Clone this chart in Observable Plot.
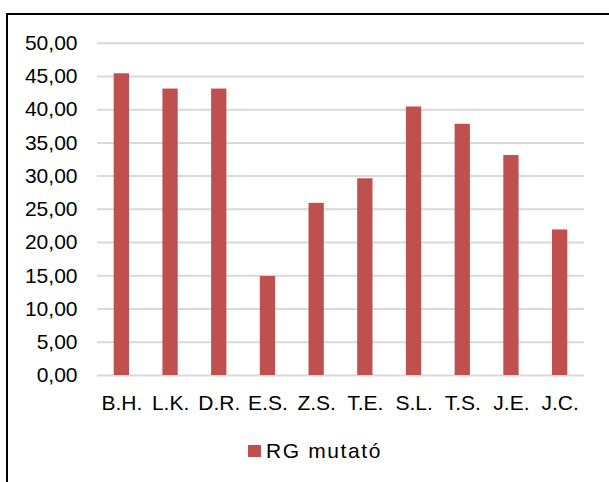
<!DOCTYPE html>
<html>
<head>
<meta charset="utf-8">
<script src="https://cdn.jsdelivr.net/npm/d3@7"></script>
<script src="https://cdn.jsdelivr.net/npm/@observablehq/plot@0.6"></script>
<style>
  html, body { margin: 0; padding: 0; background: #fff; overflow: hidden; width: 609px; height: 482px; }
  #wrap { position: relative; width: 609px; height: 482px; overflow: hidden; }
  #frame { position: absolute; left: 6px; top: 13px; width: 800px; height: 700px; border: 2px solid #000; box-sizing: border-box; }
  #chart { position: absolute; left: 0; top: 0; }
  #legend { position: absolute; left: 248px; top: 439px; display: flex; align-items: center; font-family: "Liberation Sans", Arial, sans-serif; font-size: 21px; letter-spacing: 1.6px; color: #000; }
  #legend .sw { width: 12.5px; height: 12.5px; background: #c0504d; margin-right: 5.5px; }
</style>
</head>
<body>
<div id="wrap">
  <div id="frame"></div>
  <div id="chart"></div>
  <div id="legend"><span class="sw"></span><span class="lbl">RG mutató</span></div>
</div>
<script>
const names = ["B.H.", "L.K.", "D.R.", "E.S.", "Z.S.", "T.E.", "S.L.", "T.S.", "J.E.", "J.C."];
const values = [45.4, 43.1, 43.1, 14.9, 25.9, 29.6, 40.4, 37.8, 33.1, 21.9];
const yTicks = [0, 5, 10, 15, 20, 25, 30, 35, 40, 45, 50];
const seriesName = "RG mutató";

const data = names.map((n, i) => ({name: n, value: values[i]}));
const fmt = d => d.toFixed(2).replace(".", ",");

const chart = Plot.plot({
  width: 609,
  height: 420,
  marginLeft: 97,
  marginRight: 25,
  marginTop: 42.7,
  marginBottom: 45,
  style: {fontFamily: "'Liberation Sans', Arial, sans-serif", fontSize: "21px", color: "#000", background: "transparent"},
  x: {domain: names, paddingInner: 0.686, paddingOuter: 0.343, round: false, label: null},
  y: {domain: [0, 50], label: null},
  marks: [
    Plot.ruleY(yTicks, {stroke: "#d9d9d9", strokeWidth: 2}),
    Plot.barY(data, {x: "name", y: "value", fill: "#c0504d"}),
    Plot.axisY(yTicks, {tickSize: 0, tickPadding: 20, tickFormat: fmt, label: null, fontSize: 21}),
    Plot.axisX(names, {tickSize: 0, tickPadding: 20, label: null, fontSize: 21})
  ]
});
document.getElementById("chart").appendChild(chart);
document.querySelector("#legend .lbl").textContent = seriesName;
</script>
</body>
</html>
